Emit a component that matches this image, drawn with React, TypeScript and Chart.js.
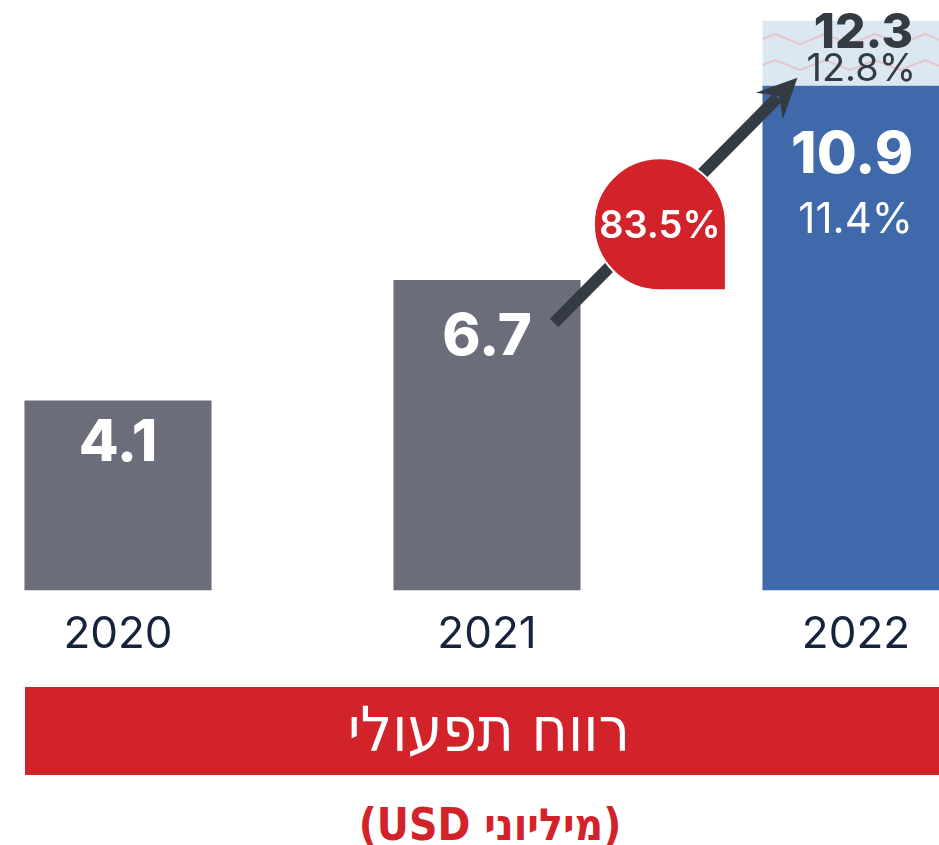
import React, { useEffect, useRef } from 'react';
import { Chart, registerables } from 'chart.js';

Chart.register(...registerables);

// ---- data ----
const years = ['2020', '2021', '2022'];
const operatingProfit = [4.1, 6.7, 10.9];
const adjustedExtra = [0, 0, 1.4]; // adjusted total for 2022 = 12.3
const adjustedTotalLabels = ['', '', '12.3'];
const marginLabels = ['', '', '11.4%'];
const adjustedMarginLabels = ['', '', '12.8%'];
const growthLabel = '83.5%';
const titleText = 'רווח תפעולי';
const subtitleText = '(מיליוני USD)';

const GREY = '#6b6e7a';
const BLUE = '#3f69ab';
const DARK = '#343b42';
const RED = '#d2232a';
const NAVY = '#17223b';
const NUM_FONT = 'Inter, "Open Sans", sans-serif';
const HEB_FONT = '"DejaVu Sans Condensed", "DejaVu Sans", sans-serif';

function makePattern(): CanvasPattern | string {
  const c = document.createElement('canvas');
  c.width = 50;
  c.height = 26;
  const g = c.getContext('2d');
  if (!g) return '#dce8f1';
  g.fillStyle = '#dce8f1';
  g.fillRect(0, 0, 50, 26);
  g.strokeStyle = '#e6c4cd';
  g.lineWidth = 2;
  g.beginPath();
  g.moveTo(0, 18);
  g.lineTo(25, 8);
  g.lineTo(50, 18);
  g.stroke();
  const p = g.createPattern(c, 'repeat');
  return p || '#dce8f1';
}

const overlay = {
  id: 'overlay',
  afterDatasetsDraw(chart: any) {
    const ctx: CanvasRenderingContext2D = chart.ctx;
    const d0 = chart.getDatasetMeta(0).data;
    ctx.save();
    ctx.textBaseline = 'alphabetic';

    // 2020 & 2021 labels
    const offs = [61, 75];
    for (let i = 0; i < 2; i++) {
      const b = d0[i].getProps(['x', 'y', 'base', 'width'], true);
      ctx.fillStyle = '#ffffff';
      ctx.font = `800 58px ${NUM_FONT}`;
      ctx.textAlign = 'center';
      ctx.fillText(String(operatingProfit[i]), b.x, b.y + offs[i]);
    }

    // 2022 labels
    const blue = d0[2].getProps(['x', 'y', 'base', 'width'], true);
    const rx = blue.x + 57;
    ctx.textAlign = 'right';
    ctx.fillStyle = '#ffffff';
    ctx.font = `800 58px ${NUM_FONT}`;
    ctx.fillText(String(operatingProfit[2]), rx, blue.y + 87);
    ctx.font = `400 42px ${NUM_FONT}`;
    ctx.fillText(marginLabels[2], rx, blue.y + 147);

    ctx.fillStyle = DARK;
    ctx.font = `400 38px ${NUM_FONT}`;
    ctx.fillText(adjustedMarginLabels[2], rx + 3, blue.y - 5);
    ctx.font = `800 48px ${NUM_FONT}`;
    ctx.fillText(adjustedTotalLabels[2], rx, blue.y - 38);

    // arrow
    const b21 = d0[1].getProps(['x', 'y', 'base', 'width'], true);
    const sx = b21.x + 67;
    const sy = b21.y + 43;
    const ex = blue.x - blue.width / 2 + 35;
    const ey = blue.y - 8;
    const ang = Math.atan2(ey - sy, ex - sx);
    const ux = Math.cos(ang);
    const uy = Math.sin(ang);
    const px = -uy;
    const py = ux;
    const headLen = 40;
    ctx.strokeStyle = DARK;
    ctx.lineWidth = 12;
    ctx.lineCap = 'butt';
    ctx.beginPath();
    ctx.moveTo(sx, sy);
    ctx.lineTo(ex - ux * (headLen - 12), ey - uy * (headLen - 12));
    ctx.stroke();
    ctx.fillStyle = DARK;
    ctx.beginPath();
    ctx.moveTo(ex, ey);
    ctx.lineTo(ex - ux * headLen + px * 19, ey - uy * headLen + py * 19);
    ctx.lineTo(ex - ux * (headLen - 14), ey - uy * (headLen - 14));
    ctx.lineTo(ex - ux * headLen - px * 19, ey - uy * headLen - py * 19);
    ctx.closePath();
    ctx.fill();

    // growth bubble
    const t = 0.435;
    const cx = sx + (ex - sx) * t;
    const cy = sy + (ey - sy) * t + 8;
    const r = 66;
    ctx.beginPath();
    ctx.moveTo(cx + r, cy);
    ctx.lineTo(cx + r, cy + r);
    ctx.lineTo(cx, cy + r);
    ctx.arc(cx, cy, r, Math.PI / 2, Math.PI * 2);
    ctx.closePath();
    ctx.fillStyle = RED;
    ctx.fill();
    ctx.strokeStyle = '#ffffff';
    ctx.lineWidth = 2;
    ctx.stroke();
    ctx.fillStyle = '#ffffff';
    ctx.textAlign = 'center';
    ctx.font = `600 38px ${NUM_FONT}`;
    ctx.fillText(growthLabel, cx, cy + 14);

    ctx.restore();
  },
};

export default function App() {
  const ref = useRef<HTMLCanvasElement | null>(null);

  useEffect(() => {
    if (!ref.current) return;
    const pattern = makePattern();
    const chart = new Chart(ref.current, {
      type: 'bar',
      data: {
        labels: years,
        datasets: [
          {
            data: operatingProfit,
            backgroundColor: [GREY, GREY, BLUE],
            borderWidth: 0,
            categoryPercentage: 1,
            barPercentage: 0.507,
            clip: false as any,
            stack: 's',
          },
          {
            data: adjustedExtra,
            backgroundColor: pattern as any,
            borderWidth: 0,
            categoryPercentage: 1,
            barPercentage: 0.507,
            clip: false as any,
            stack: 's',
          },
        ],
      },
      options: {
        animation: false,
        responsive: true,
        maintainAspectRatio: false,
        layout: { padding: { left: 118, right: 83, top: 0, bottom: 0 } },
        plugins: { legend: { display: false }, tooltip: { enabled: false } },
        scales: {
          x: {
            stacked: true,
            offset: false,
            grid: { display: false, drawTicks: false },
            border: { display: false },
            ticks: {
              color: NAVY,
              padding: 18,
              font: { family: NUM_FONT, size: 44, weight: 400 as any },
            },
          },
          y: { stacked: true, display: false, min: 0, max: 12.75 },
        },
      },
      plugins: [overlay],
    });
    return () => chart.destroy();
  }, []);

  return (
    <div style={{ position: 'absolute', left: 0, top: 0, width: 939, height: 845, background: '#fff', overflow: 'hidden' }}>
      <div style={{ position: 'absolute', left: 0, top: 0, width: 939, height: 679 }}>
        <canvas ref={ref} />
      </div>
      <div
        dir="rtl"
        style={{
          position: 'absolute',
          left: 25,
          top: 687,
          width: 914,
          height: 88,
          background: RED,
          color: '#fff',
          fontFamily: HEB_FONT,
          fontSize: 62,
          lineHeight: '86px',
          textAlign: 'center',
          boxSizing: 'border-box',
          paddingLeft: 14,
        }}
      >
        {titleText}
      </div>
      <div
        dir="rtl"
        style={{
          position: 'absolute',
          left: 0,
          top: 800,
          width: 980,
          height: 50,
          color: RED,
          fontFamily: HEB_FONT,
          fontSize: 44,
          fontWeight: 700,
          lineHeight: '50px',
          textAlign: 'center',
        }}
      >
        {subtitleText}
      </div>
    </div>
  );
}
